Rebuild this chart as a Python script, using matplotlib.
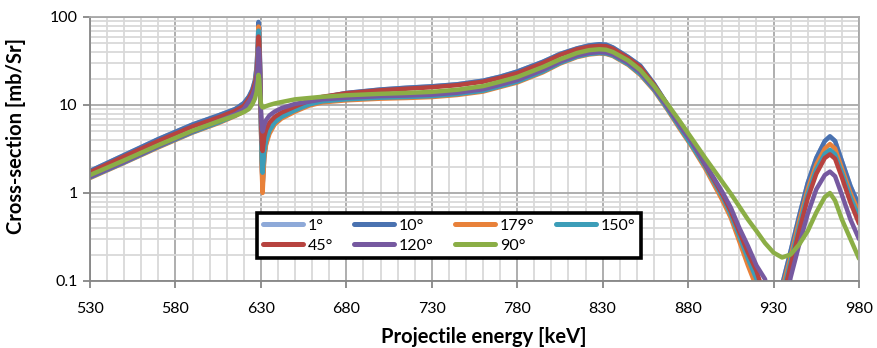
import numpy as np
import matplotlib.pyplot as plt
from matplotlib.ticker import FixedLocator, MultipleLocator, LogLocator, NullFormatter

plt.rcParams['font.family'] = ['Lato', 'DejaVu Sans']

# projectile energies [keV], shared by all angles
energy = [530, 550, 570, 590, 605, 615, 620,
          623, 625, 626.5, 627.5, 628.2, 628.6, 629, 629.5, 630, 630.5, 631, 631.5, 632, 633, 635, 638, 642, 650,
          658, 666, 680, 700, 715, 730, 745, 760, 770, 780,
          795, 805, 815, 822, 828, 832, 836, 845, 852, 860, 868, 875, 882, 890,
          900, 905, 910, 915, 920, 925, 930,
          935, 940, 945, 950, 955, 960, 963, 966, 970, 975, 980]

# cross-sections [mb/Sr] per detection angle
xs_1 = [1.78, 2.7, 4.1, 6.0, 7.6, 9.0, 10.5,
        12.5, 15, 19, 27, 50, 86, 74, 30, 7, 2.2, 1.2, 1.8, 2.7, 3.7, 5.0, 6.3, 7.4, 9.0,
        10.8, 12.2, 13.7, 15.0, 15.7, 16.3, 17.2, 18.9, 21.0, 24,
        31, 38, 44, 47.5, 49, 48.5, 45, 35, 28, 17.5, 10, 6.0, 3.8, 2.0,
        0.88, 0.55, 0.30, 0.17, 0.09, 0.045, 0.02,
        0.09, 0.22, 0.55, 1.3, 2.5, 3.9, 4.4, 3.9, 2.3, 1.2, 0.72]
xs_10 = [1.78, 2.7, 4.1, 6.0, 7.6, 9.0, 10.5,
         12.5, 15, 19, 27, 50, 88, 75, 30, 7, 2.2, 1.2, 1.8, 2.7, 3.7, 5.0, 6.3, 7.4, 9.0,
         10.8, 12.2, 13.7, 15.0, 15.7, 16.3, 17.2, 18.9, 21.0, 24,
         31, 38, 44, 47.5, 49, 48.5, 45, 35, 28, 17.5, 10, 6.0, 3.8, 2.0,
         0.88, 0.55, 0.30, 0.17, 0.09, 0.045, 0.02,
         0.09, 0.22, 0.55, 1.3, 2.5, 3.9, 4.4, 3.9, 2.3, 1.2, 0.72]
xs_179 = [1.48, 2.2, 3.3, 4.85, 6.2, 7.5, 8.4,
          10.5, 13, 17, 24, 44, 78, 66, 26, 6, 1.8, 1.0, 1.6, 2.5, 3.5, 4.7, 6.0, 7.0, 8.4,
          9.8, 10.7, 11.3, 11.8, 12.0, 12.3, 13.0, 14.2, 16.0, 18.0,
          23.5, 29.5, 35, 37.5, 38.5, 38, 36, 28.5, 22, 14.7, 8.8, 5.4, 3.4, 1.9,
          0.83, 0.52, 0.28, 0.15, 0.085, 0.04, 0.02,
          0.08, 0.19, 0.48, 1.1, 2.1, 3.2, 3.6, 3.2, 1.9, 1.0, 0.6]
xs_150 = [1.50, 2.22, 3.35, 4.9, 6.3, 7.6, 8.6,
          10.8, 13.2, 17, 23, 40, 70, 60, 25, 6.5, 2.4, 1.7, 2.2, 3.0, 3.9, 5.1, 6.3, 7.3, 8.7,
          10.1, 11.0, 11.6, 12.1, 12.3, 12.6, 13.3, 14.5, 16.3, 18.4,
          24, 30, 35.5, 38, 39, 38.5, 36.5, 29, 22.5, 15, 9.0, 5.6, 3.5, 2.0,
          0.91, 0.57, 0.32, 0.18, 0.105, 0.05, 0.02,
          0.07, 0.17, 0.42, 0.98, 1.85, 2.8, 3.1, 2.75, 1.7, 0.9, 0.53]
xs_45 = [1.72, 2.6, 3.9, 5.7, 7.2, 8.6, 9.8,
         11.8, 14, 17.5, 22, 36, 60, 52, 24, 8, 3.8, 3.0, 3.6, 4.4, 5.2, 6.3, 7.3, 8.2, 9.6,
         11.2, 12.4, 13.6, 14.7, 15.3, 15.9, 16.8, 18.4, 20.4, 23,
         30, 37, 43, 46, 47, 46.5, 43.5, 34, 27, 17, 10, 6.0, 3.9, 2.1,
         0.97, 0.62, 0.36, 0.21, 0.13, 0.065, 0.03,
         0.06, 0.15, 0.37, 0.87, 1.65, 2.5, 2.75, 2.45, 1.5, 0.78, 0.45]
xs_120 = [1.52, 2.25, 3.4, 5.0, 6.5, 7.9, 9.0,
          11.0, 12.8, 15.5, 19, 29, 44, 40, 21, 9, 5.8, 5.0, 5.4, 6.0, 6.7, 7.6, 8.4, 9.2, 10.3,
          10.9, 11.6, 12.1, 12.6, 12.8, 13.1, 13.8, 15.1, 17.0, 19.2,
          25, 31, 36.5, 39, 40, 39.5, 37.5, 30, 23.5, 15.5, 9.4, 5.9, 3.8, 2.15,
          1.03, 0.68, 0.40, 0.25, 0.15, 0.105, 0.035,
          0.035, 0.11, 0.26, 0.58, 1.1, 1.6, 1.75, 1.55, 0.95, 0.5, 0.3]
xs_90 = [1.60, 2.35, 3.5, 5.1, 6.5, 7.6, 8.3,
         9.0, 10.2, 11.8, 14, 18, 22, 20, 14, 10.5, 9.7, 9.4, 9.4, 9.5, 9.7, 10.0, 10.4, 10.8, 11.6,
         12.0, 12.4, 12.9, 13.4, 13.7, 14.1, 14.9, 16.4, 18.4, 20.8,
         27, 33, 39, 42, 43, 42.5, 40, 32, 25, 16.5, 10.2, 6.6, 4.2, 2.5,
         1.34, 0.98, 0.70, 0.50, 0.37, 0.27, 0.21,
         0.185, 0.2, 0.26, 0.37, 0.6, 0.9, 1.0, 0.82, 0.5, 0.3, 0.18]

angles = ['1°', '10°', '179°', '150°', '45°', '120°', '90°']
series = [xs_1, xs_10, xs_179, xs_150, xs_45, xs_120, xs_90]
colors = ['#8EA9D8', '#4A72B0', '#E8813A', '#3C9DB8', '#B7433F', '#7659A0', '#8BAE46']

fig = plt.figure(figsize=(8.77, 3.48), dpi=100)
ax = fig.add_axes([90 / 877, 1 - 281 / 348, 769 / 877, 264 / 348])

lines = []
for name, vals, c in zip(angles, series, colors):
    ln, = ax.plot(energy, vals, color=c, lw=3.2, label=name,
                  solid_capstyle='round', solid_joinstyle='round')
    lines.append(ln)

ax.set_yscale('log')
ax.set_xlim(530, 980)
ax.set_ylim(0.1, 100)

ax.xaxis.set_major_locator(FixedLocator(np.arange(530, 981, 50)))
ax.xaxis.set_minor_locator(MultipleLocator(10))
ax.set_yticks([0.1, 1, 10, 100])
ax.set_yticklabels(['0.1', '1', '10', '100'])
ax.yaxis.set_minor_locator(LogLocator(base=10, subs=range(2, 10)))
ax.yaxis.set_minor_formatter(NullFormatter())

ax.set_axisbelow(True)
ax.grid(which='minor', color='#D9D9D9', lw=1.3)
ax.grid(which='major', color='#A8A8A8', lw=1.3)
ax.tick_params(which='minor', length=0)
ax.tick_params(which='major', length=5, width=1.3, color='#868686', labelsize=11.5, labelcolor='black')
ax.tick_params(axis='x', pad=10)
ax.tick_params(axis='y', pad=4)
for s in ax.spines.values():
    s.set_color('#A8A8A8')
    s.set_linewidth(1.3)
ax.spines['left'].set_color('#868686')
ax.spines['bottom'].set_color('#868686')

fig.text(484 / 877, 1 - 337 / 348, 'Projectile energy [keV]', ha='center', va='center',
         fontsize=14.5, fontweight='bold')
fig.text(16 / 877, 1 - 136 / 348, 'Cross-section [mb/Sr]', ha='center', va='center',
         rotation=90, fontsize=14.5, fontweight='bold')

# legend reads row by row: 1°, 10°, 179°, 150° / 45°, 120°, 90°
order = [0, 4, 1, 5, 2, 6, 3]
leg = ax.legend([lines[i] for i in order], [angles[i] for i in order], ncol=4,
                loc='upper left', bbox_to_anchor=((257 - 90) / 769, (281 - 213) / 264),
                borderaxespad=0, fontsize=11.5, handlelength=2.5, handletextpad=0.3,
                columnspacing=1.35, labelspacing=0.35, borderpad=0.35,
                frameon=True, fancybox=False, framealpha=1, edgecolor='black')
leg.get_frame().set_linewidth(2.6)
for h in leg.legend_handles:
    h.set_linewidth(3.6)

fig.savefig('out.png', dpi=100)
